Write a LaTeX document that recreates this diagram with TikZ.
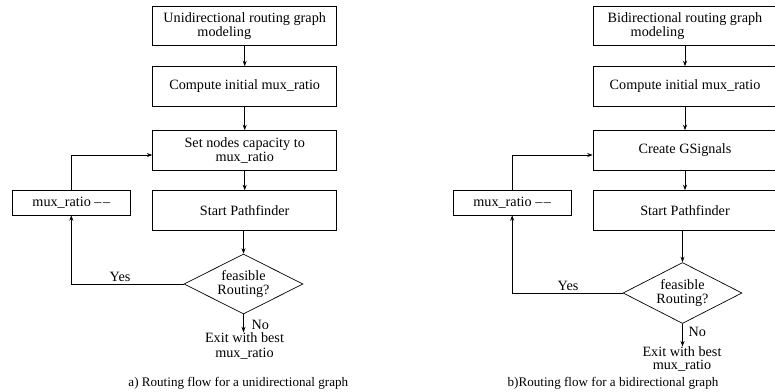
\documentclass[tikz,border=0pt]{standalone}
\usepackage{fontspec}
\setmainfont{Liberation Serif}
\usetikzlibrary{shapes.geometric,arrows.meta}
\begin{document}
\begin{tikzpicture}[x=1pt,y=-1pt,
  box/.style={draw, line width=0.7pt, minimum width=184pt, minimum height=39.4pt,
    inner sep=0pt, align=center, font=\fontsize{14.2}{14.2}\selectfont},
  smallbox/.style={draw, line width=0.7pt, minimum width=117.4pt, minimum height=24.3pt,
    inner sep=0pt, font=\fontsize{14.2}{14.2}\selectfont},
  decision/.style={draw, line width=0.7pt, diamond, aspect=2.4, minimum width=116pt, minimum height=60pt,
    inner sep=0pt, align=center, font=\fontsize{14.2}{14.2}\selectfont},
  txt/.style={inner sep=0pt, font=\fontsize{14.2}{15}\selectfont},
  captxt/.style={inner sep=0pt, font=\fontsize{13.1}{14}\selectfont},
  arr/.style={line width=0.7pt, -{Stealth[length=5.5pt,width=4pt]}}
]
\useasboundingbox (0,0) rectangle (775,391);

% ---------- left flow ----------
\node[box, align=left] (u1) at (244.7,25.8) {Unidirectional routing graph\\[-0.4pt]\hspace*{34pt}modeling};
\node[box] (u2) at (244.7,86.3) {Compute initial mux\_ratio};
\node[box] (u3) at (244.7,150.3) {Set nodes capacity to\\[-0.4pt]mux\_ratio};
\node[box] (u4) at (244.7,210.3) {Start Pathfinder};
\node[smallbox] (um) at (71.3,202.8) {mux\_ratio \textendash\kern1.5pt\textendash};
\node[decision] (ud) at (243.5,284) {feasible\\[0.6pt]Routing?};
\node[txt, align=center, anchor=north] (ue) at (244.5,332.3) {Exit with best\\mux\_ratio};
\node[txt, anchor=base] (uyes) at (120,281) {Yes};
\node[txt, anchor=base west] (uno) at (251.5,329.5) {No};
\node[captxt, anchor=base] (ucap) at (238.3,386.5) {a) Routing flow for a unidirectional graph};

\draw[arr] (u1) -- (u2);
\draw[arr] (u2) -- (u3);
\draw[arr] (u3) -- (u4);
\draw[arr] (u4.south -| ud.north) -- (ud.north);
\draw[arr] (ud.west) -| (um.south);
\draw[arr] (um.north) |- ([yshift=-4.7pt]u3.west);
\draw[arr] (ud.south) -- (ud.south |- ue.north);

% ---------- right flow ----------
\node[box, align=left] (b1) at (685,25.8) {Bidirectional routing graph\\[-0.4pt]\hspace*{23pt}modeling};
\node[box] (b2) at (685,86.3) {Compute initial mux\_ratio};
\node[box] (b3) at (685,150.3) {Create GSignals};
\node[box] (b4) at (685,210.3) {Start Pathfinder};
\node[smallbox] (bm) at (512.2,202.8) {mux\_ratio \textendash\kern1.5pt\textendash};
\node[decision, minimum height=61pt] (bd) at (682.5,293) {feasible\\[0.6pt]Routing?};
\node[txt, align=center, anchor=north, font=\fontsize{14.2}{13.2}\selectfont] (be) at (682,346.5) {Exit with best\\mux\_ratio};
\node[txt, anchor=base] (byes) at (568,290) {Yes};
\node[txt, anchor=base west] (bno) at (688.5,336) {No};
\node[captxt, anchor=base] (bcap) at (613,386.5) {b)Routing flow for a bidirectional graph};

\draw[arr] (b1) -- (b2);
\draw[arr] (b2) -- (b3);
\draw[arr] (b3) -- (b4);
\draw[arr] (b4.south -| bd.north) -- (bd.north);
\draw[arr] (bd.west) -| (bm.south);
\draw[arr] (bm.north) |- ([yshift=-4.7pt]b3.west);
\draw[arr] (bd.south) -- (bd.south |- be.north);
\end{tikzpicture}
\end{document}
